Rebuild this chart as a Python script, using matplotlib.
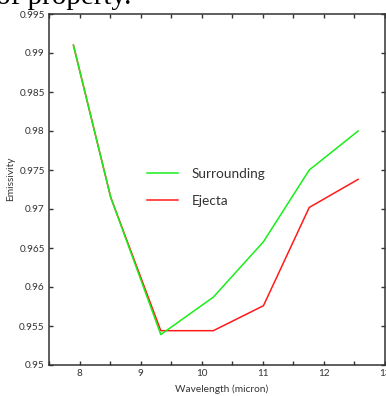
import matplotlib
matplotlib.use('Agg')
import matplotlib.pyplot as plt
from matplotlib.ticker import MultipleLocator

# wavelength (micron) and emissivity
wavelength = [7.90, 8.51, 9.33, 10.19, 11.01, 11.76, 12.56]
surrounding = [0.9910, 0.9715, 0.9539, 0.9587, 0.9658, 0.9750, 0.9800]
ejecta = [0.9910, 0.9715, 0.9544, 0.9544, 0.9576, 0.9702, 0.9738]

plt.rcParams['font.family'] = ['Lato', 'DejaVu Sans']

fig = plt.figure(figsize=(3.86, 3.96), dpi=100)
ax = fig.add_axes([49 / 386, 1 - 365 / 396, 336 / 386, 351 / 396])

ax.plot(wavelength, ejecta, color='#ff1a1a', lw=1.1, label='Ejecta', zorder=2)
ax.plot(wavelength, surrounding, color='#1aee1a', lw=1.1, label='Surrounding', zorder=3)

ax.set_xlim(7.5, 13)
ax.set_ylim(0.95, 0.995)
ax.xaxis.set_major_locator(MultipleLocator(1))
ax.xaxis.set_minor_locator(MultipleLocator(0.5))
ax.set_yticks([0.95, 0.955, 0.96, 0.965, 0.97, 0.975, 0.98, 0.985, 0.99, 0.995])
ax.set_yticklabels(['0.95', '0.955', '0.96', '0.965', '0.97', '0.975', '0.98',
                    '0.985', '0.99', '0.995'])
ax.tick_params(which='both', direction='in', top=True, right=True,
               length=3, width=1, color='#333333', labelsize=7.2,
               labelcolor='#333333', pad=3)

for s in ax.spines.values():
    s.set_linewidth(1.1)
    s.set_color('#333333')

ax.set_xlabel('Wavelength (micron)', fontsize=7.3, color='#333333')
ax.set_ylabel('Emissivity', fontsize=7.3, color='#333333')
ax.xaxis.set_label_coords(0.515, -0.055)
ax.yaxis.set_label_coords(-0.10, 0.53)

h, l = ax.get_legend_handles_labels()
ax.legend(h[::-1], l[::-1], loc='center left', bbox_to_anchor=(0.255, 0.507),
          frameon=False, fontsize=9.8, handlelength=2.3, labelspacing=1.1,
          handletextpad=1.0, labelcolor='#333333')

# cut-off text from the page above the figure
fig.text(131 / 386, 1 - 4 / 396, 'of property.', ha='right', va='baseline',
         fontsize=21, family='Liberation Serif', color='black')

fig.savefig('out.png', dpi=100)
